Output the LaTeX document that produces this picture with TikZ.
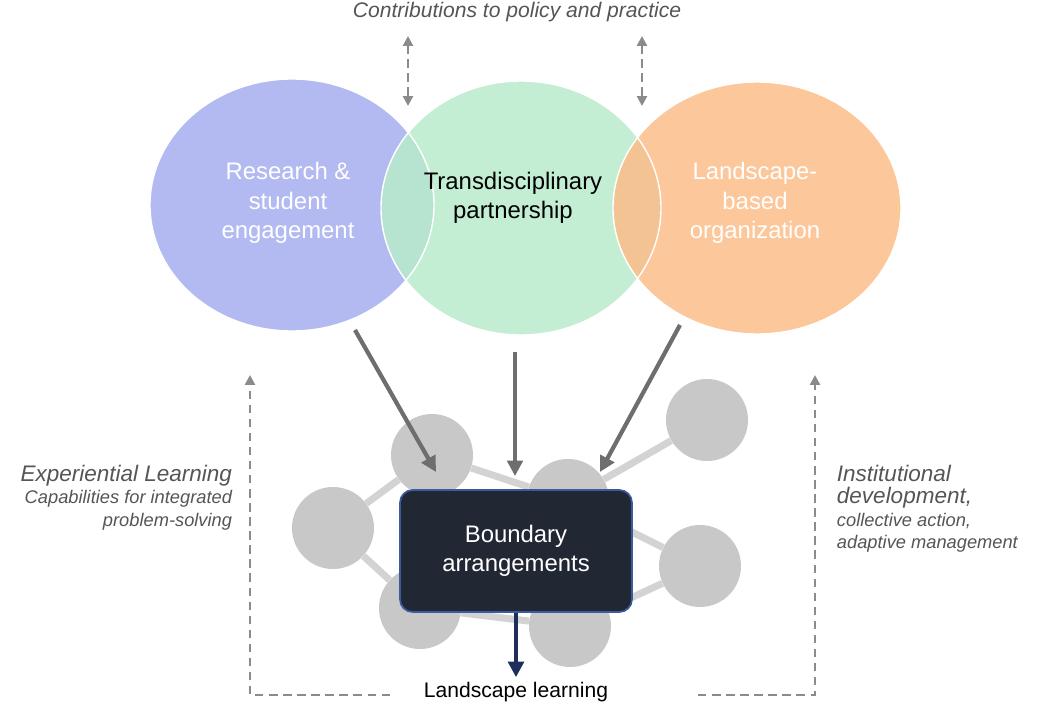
\documentclass[tikz,border=0pt]{standalone}
\usepackage{fontspec}
\setmainfont{Liberation Sans}
\usetikzlibrary{arrows.meta}
\definecolor{cL}{HTML}{A4AEEE}
\definecolor{cM}{HTML}{B8EBCB}
\definecolor{cR}{HTML}{FCBD88}
\definecolor{gn}{HTML}{C8C8C8}
\definecolor{ga}{HTML}{6E6E6E}
\definecolor{tx}{HTML}{555555}
\definecolor{bxb}{HTML}{3C5AA0}
\definecolor{bxf}{HTML}{222833}
\definecolor{dbl}{HTML}{1E2D5A}
\begin{document}
\begin{tikzpicture}[x=0.025cm,y=-0.025cm,
 blob/.style={circle,fill=gn,minimum size=82*0.025cm,inner sep=0},
 edge/.style={gn!80,line width=5pt},
 big/.style={-{Triangle[length=11pt,width=11pt]},ga,line width=3pt},
 dsh/.style={ga!80,line width=1.8pt,dash pattern=on 6pt off 4pt},
 lab/.style={text=tx,font=\itshape}]
\useasboundingbox (0,0) rectangle (1041,711);
% network
\node[blob] (a) at (432,455) {};
\node[blob] (b) at (568,500) {};
\node[blob] (c) at (707,420) {};
\node[blob] (d) at (333,528) {};
\node[blob] (e) at (700,566) {};
\node[blob] (f) at (420,608) {};
\node[blob] (g) at (570,626) {};
\draw[edge] (a)--(b) (b)--(c) (d)--(a) (d)--(f) (f)--(g) (g)--(e) (e)--(b);
% circles
\begin{scope}[fill opacity=0.85]
\fill[cL] (292,205) ellipse [x radius=142,y radius=126];
\fill[cM] (521,208) ellipse [x radius=140,y radius=127];
\fill[cR] (757,208) ellipse [x radius=144,y radius=126];
\end{scope}
\draw[white,line width=1pt] (292,205) ellipse [x radius=142,y radius=126];
\draw[white,line width=1pt] (521,208) ellipse [x radius=140,y radius=127];
\draw[white,line width=1pt] (757,208) ellipse [x radius=144,y radius=126];
\node[text=white,font=\fontsize{17}{21}\selectfont,align=center] (l) at (288,203) {Research \&\\student\\engagement};
\node[text=black,font=\fontsize{17}{21}\selectfont,align=center] (m) at (513,198) {Transdisciplinary\\partnership};
\node[text=white,font=\fontsize{17}{21}\selectfont,align=center] (r) at (755,203) {Landscape-\\based\\organization};
% box
\node[draw=bxb,line width=1.2pt,fill=bxf,rounded corners=9pt,minimum width=232*0.025cm,minimum height=122*0.025cm,text=white,font=\fontsize{17}{21}\selectfont,align=center] (box) at (516,551) {Boundary\\arrangements};
% arrows
\coordinate (s1) at (355,330); \coordinate (t1) at (436,472);
\coordinate (s2) at (515,352); \coordinate (t2) at (515,476);
\coordinate (s3) at (680,325); \coordinate (t3) at (600,472);
\draw[big] (s1)--(t1); \draw[big] (s2)--(t2); \draw[big] (s3)--(t3);
\node[font=\fontsize{15}{18}\selectfont] (ll) at (516,692) {Landscape learning};
\draw[-{Triangle[length=11pt,width=11pt]},dbl,line width=3pt] (box.south)--(ll.north);
% top
\node[lab,font=\itshape\fontsize{15}{18}\selectfont] (top) at (517,12) {Contributions to policy and practice};
\coordinate (u1) at (408,36); \coordinate (v1) at (408,106);
\coordinate (u2) at (642,36); \coordinate (v2) at (642,106);
\draw[dsh,{Triangle[length=7pt,width=7pt]}-{Triangle[length=7pt,width=7pt]}] (u1)--(v1);
\draw[dsh,{Triangle[length=7pt,width=7pt]}-{Triangle[length=7pt,width=7pt]}] (u2)--(v2);
% side loops
\coordinate (p1) at (250,695); \coordinate (q1) at (250,375);
\coordinate (p2) at (815,695); \coordinate (q2) at (815,375);
\coordinate (w1) at (390,695); \coordinate (w2) at (698,695);
\draw[dsh,-{Triangle[length=7pt,width=7pt]}] (w1) -- (p1) -- (q1);
\draw[dsh,-{Triangle[length=7pt,width=7pt]}] (w2) -- (p2) -- (q2);
\node[lab,align=right,anchor=north east,font=\itshape\fontsize{13}{16}\selectfont] (el) at (237,460) {{\fontsize{16}{19}\selectfont Experiential Learning}\\Capabilities for integrated\\problem-solving};
\node[lab,align=left,anchor=north west,font=\itshape\fontsize{13}{16}\selectfont] (id) at (832,460) {{\fontsize{16}{19}\selectfont Institutional}\\{\fontsize{16}{19}\selectfont development,}\\collective action,\\adaptive management};
\end{tikzpicture}
\end{document}
